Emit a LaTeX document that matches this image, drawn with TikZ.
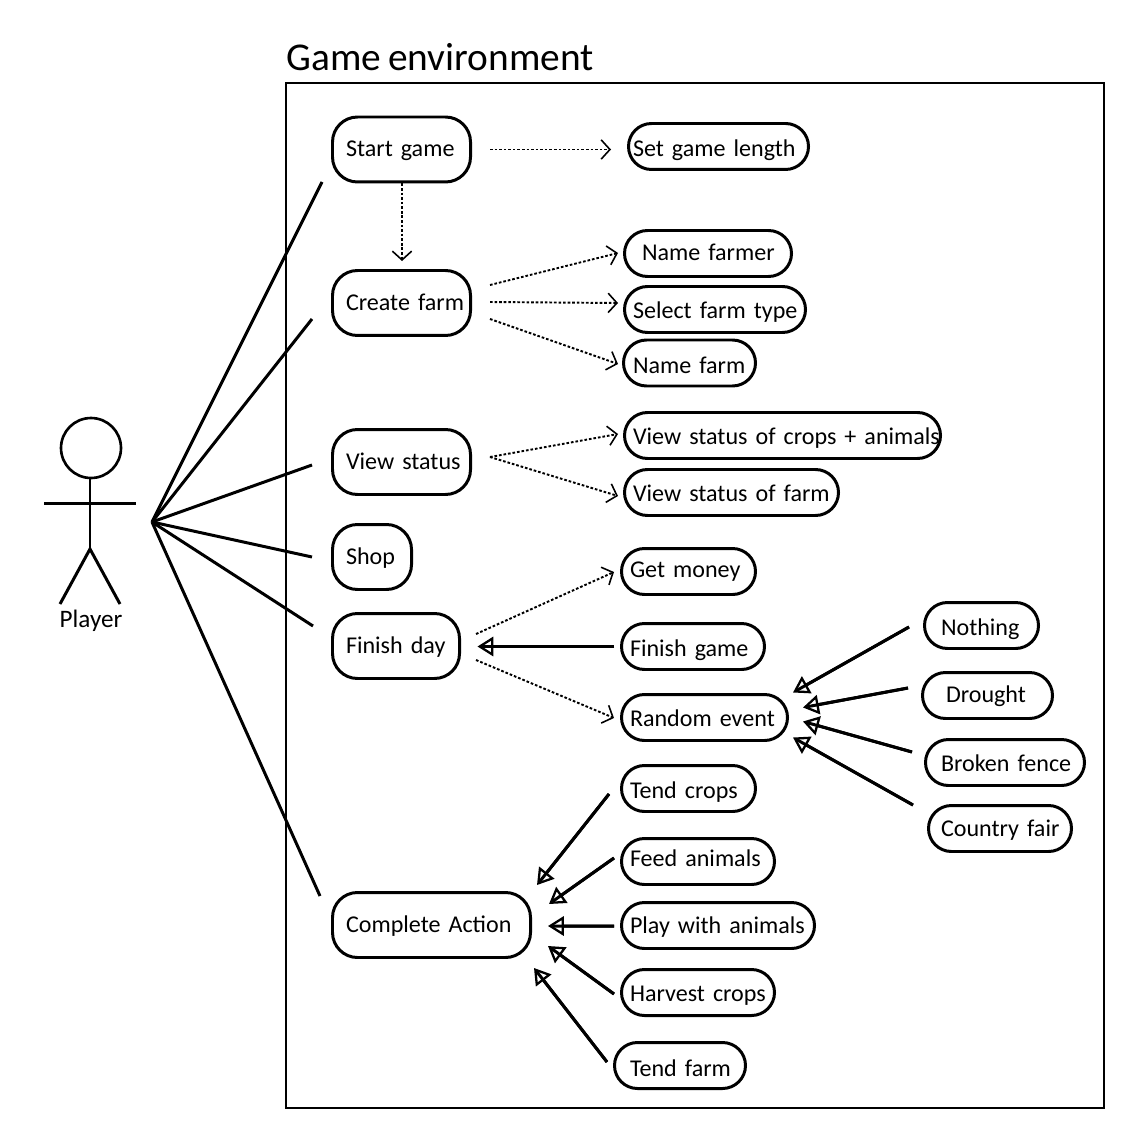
\documentclass[tikz,border=0pt]{standalone}
\usepackage{fontspec}
\setmainfont[WordSpace=0.8]{Carlito}
\usetikzlibrary{arrows.meta}
\tikzset{
  usecase/.style 2 args={draw, black, line width=1.7pt, rounded corners=0.5cm, anchor=west, outer sep=0pt,
    font=\fontsize{13.7}{18}\selectfont, minimum height=1.3cm, textdrop=7.5, text depth=2pt, xshift=0.03cm,
    text width={(#1-2*#2)*0.02cm}, inner xsep={(#2-1.5)*0.02cm},
    execute at begin node=\hbox\bgroup, execute at end node=\egroup},
  pill/.style 2 args={usecase={#1}{#2}, rounded corners=0.46cm, minimum height=0.92cm},
  textdrop/.style={text height={2*#1*0.02cm+2pt}},
  assoc/.style={line width=1.7pt},
  extend/.style={line width=1.1pt, dash pattern=on 1.5pt off 1.1pt, -{Straight Barb[length=5pt, width=11pt, line width=0.9pt]}},
  generalize/.style={line width=1.7pt, -{Triangle[open, length=9pt, width=11pt, line width=1.3pt]}, postaction={draw, -, shorten >=2pt}}
}
\begin{document}
\begin{tikzpicture}[x=0.02cm, y=-0.02cm]
  \useasboundingbox (0,0) rectangle (1148,1148);
  \draw[line width=1.1pt] (286,83) rectangle (1104,1108);
  \node[font=\fontsize{22.4}{28}\selectfont, anchor=base west, inner sep=0pt] (title) at (286,71) {Game environment};

  \node[circle, draw, line width=1.5pt, minimum size=1.2cm, inner sep=0pt, outer sep=0pt] (head) at (91,448) {};
  \coordinate (neck) at (90,549);
  \coordinate (hub) at (152,522);
  \draw[assoc] (90,478) -- (neck);
  \draw[assoc] (44,503.5) -- (136,503.5);
  \draw[assoc] (60,604) -- (neck) -- (120,604);
  \node[font=\fontsize{14.3}{18}\selectfont, anchor=base, inner sep=0pt] (player) at (91,627) {Player};

  \node[usecase={141}{15}] (startgame) at (331,149.5) {Start game};
  \node[usecase={141}{15}] (createfarm) at (331,303) {Create farm};
  \node[usecase={141}{15}] (viewstatus) at (331,462) {View status};
  \node[usecase={82}{15}] (shop) at (331,557) {Shop};
  \node[usecase={130}{15}] (finishday) at (331,646) {Finish day};
  \node[usecase={201}{15}] (complete) at (331,925) {Complete Action};

  \node[pill={183}{6}, textdrop=10.5] (setlength) at (627,146.5) {Set game length};
  \node[pill={170}{19}, textdrop=7.5] (namefarmer) at (623,253.5) {Name farmer};
  \node[pill={184}{10}, textdrop=9.5] (selecttype) at (623,309.5) {Select farm type};
  \node[pill={135}{11}, textdrop=11] (namefarm) at (622,363) {Name farm};
  \node[pill={319}{10}, textdrop=8.5] (viewcrops) at (623,435.5) {View status of crops + animals};
  \node[pill={217}{10}, textdrop=8.5] (viewfarm) at (623,492.5) {View status of farm};
  \node[pill={137}{10}, textdrop=5.5] (getmoney) at (620,571.5) {Get money};
  \node[pill={146}{10}, textdrop=9.5] (finishgame) at (620,646.5) {Finish game};
  \node[pill={169}{10}, textdrop=8.5] (randomevent) at (620,717.5) {Random event};
  \node[pill={137}{10}, textdrop=9.5] (tendcrops) at (620,788.5) {Tend crops};
  \node[pill={156}{10}, textdrop=4.5] (feedanimals) at (620,861.5) {Feed animals};
  \node[pill={196}{10}, textdrop=7.5] (playanimals) at (620,925.5) {Play with animals};
  \node[pill={156}{10}, textdrop=8.5] (harvest) at (620,992.5) {Harvest crops};
  \node[pill={134}{17}, textdrop=10.5] (tendfarm) at (613,1065.5) {Tend farm};
  \node[pill={117}{18}, textdrop=9.5] (nothing) at (923,625.5) {Nothing};
  \node[pill={133}{25}, textdrop=6.5] (drought) at (921,695.5) {Drought};
  \node[pill={162}{17}, textdrop=8.5] (brokenfence) at (924,762.5) {Broken fence};
  \node[pill={146}{14}, textdrop=7.5] (countryfair) at (927,828.5) {Country fair};

  \draw[assoc] (hub) -- ([shift={(-10.5,32.5)}]startgame.west);
  \draw[assoc] (hub) -- ([shift={(-20.5,16)}]createfarm.west);
  \draw[assoc] (hub) -- ([shift={(-20.5,3)}]viewstatus.west);
  \draw[assoc] (hub) -- ([shift={(-20.5,0)}]shop.west);
  \draw[assoc] (hub) -- ([shift={(-19.5,-20)}]finishday.west);
  \draw[assoc] (hub) -- ([shift={(-12.5,-29)}]complete.west);

  \draw[extend] ([shift={(19.5,0)}]startgame.east) -- ([shift={(-17.5,3)}]setlength.west);
  \draw[extend] ([shift={(0.5,1.5)}]startgame.south) -- ([shift={(0.5,-9.5)}]createfarm.north);
  \draw[extend] ([shift={(19.5,-18)}]createfarm.east) -- ([shift={(-6.5,-0.5)}]namefarmer.west);
  \draw[extend] ([shift={(19.5,-1)}]createfarm.east) -- ([shift={(-6.5,-6.5)}]selecttype.west);
  \draw[extend] ([shift={(19.5,16)}]createfarm.east) -- ([shift={(-5.5,1)}]namefarm.west);
  \draw[extend] ([shift={(19.5,-5)}]viewstatus.east) -- ([shift={(-6.5,-1.5)}]viewcrops.west);
  \draw[extend] ([shift={(19.5,-5)}]viewstatus.east) -- ([shift={(-6.5,3.5)}]viewfarm.west);
  \draw[extend] ([shift={(16.5,-12)}]finishday.east) -- ([shift={(-7.5,0.5)}]getmoney.west);
  \draw[extend] ([shift={(16.5,14)}]finishday.east) -- ([shift={(-7.5,0.5)}]randomevent.west);

  \draw[generalize] ([shift={(-7.5,0)}]finishgame.west) -- ([shift={(18,0.5)}]finishday.east);
  \draw[generalize] ([shift={(-15.5,1.5)}]nothing.west) -- ([shift={(5.5,-25)}]randomevent.east);
  \draw[generalize] ([shift={(-14.5,-7.5)}]drought.west) -- ([shift={(15.5,-10)}]randomevent.east);
  \draw[generalize] ([shift={(-13.5,-10.5)}]brokenfence.west) -- ([shift={(15.5,4)}]randomevent.east);
  \draw[generalize] ([shift={(-15.5,-23.5)}]countryfair.west) -- ([shift={(5.5,20)}]randomevent.east);
  \draw[generalize] ([shift={(-12.5,5.5)}]tendcrops.west) -- ([shift={(6.5,-40)}]complete.east);
  \draw[generalize] ([shift={(-7.5,-3.5)}]feedanimals.west) -- ([shift={(18.5,-21)}]complete.east);
  \draw[generalize] ([shift={(-7.5,0.5)}]playanimals.west) -- ([shift={(17.5,1)}]complete.east);
  \draw[generalize] ([shift={(-7.5,1.5)}]harvest.west) -- ([shift={(17.5,21)}]complete.east);
  \draw[generalize] ([shift={(-7.5,-3.5)}]tendfarm.west) -- ([shift={(3.5,43)}]complete.east);
\end{tikzpicture}
\end{document}
